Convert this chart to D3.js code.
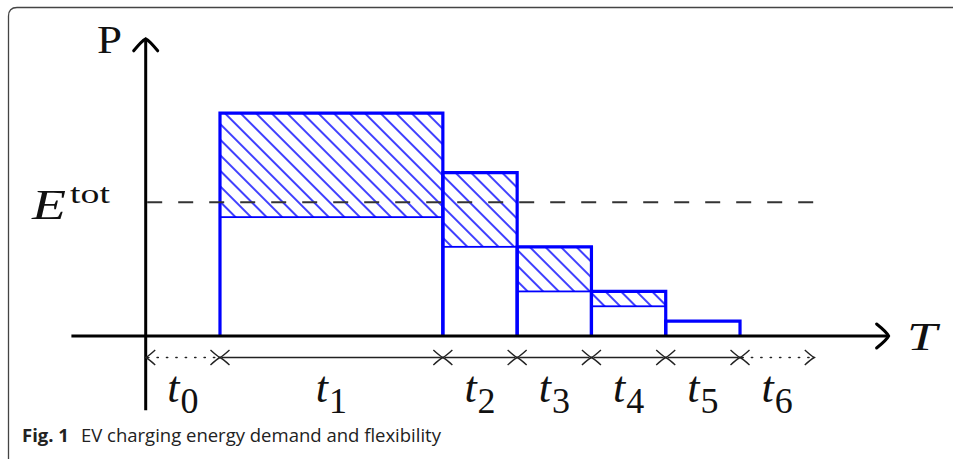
<!DOCTYPE html>
<html>
<head>
<meta charset="utf-8">
<script src="https://cdn.jsdelivr.net/npm/d3@7"></script>
<style>
  html, body { margin: 0; padding: 0; background: #fff; }
  svg { display: block; }
  .math { font-family: "Liberation Serif", "DejaVu Serif", serif; fill: #111; }
  .caption { font-family: "Open Sans", "Noto Sans", sans-serif; fill: #222; }
</style>
</head>
<body>
<svg id="chart"></svg>
<script>
// period boundaries on the time axis (t0 .. t6)
const boundaries = [0, 1, 4, 5, 6, 7, 8, 9];
const periods = ['0', '1', '2', '3', '4', '5', '6'];
// charging power per period t1..t5: upper = max, lower = min (hatched = flexibility)
const upper = [3.0, 2.2, 1.2, 0.6, 0.2];
const lower = [1.6, 1.2, 0.6, 0.4, 0.2];
const eTot = 1.8;
const captionBold = 'Fig. 1';
const captionText = 'EV charging energy demand and flexibility';

const width = 953;
const height = 459;

const x = d3.scaleLinear().domain([0, 10]).range([145.7, 888.6]);
const y = d3.scaleLinear().domain([0, 4]).range([336, 38.8]);

const svg = d3.select('#chart')
    .attr('width', width)
    .attr('height', height);

// card frame
svg.append('path')
    .attr('d', 'M8.5,460 V16 Q8.5,7.5 17,7.5 H954')
    .attr('fill', 'none')
    .attr('stroke', '#444')
    .attr('stroke-width', 1.3);

const defs = svg.append('defs');
const pat = defs.append('pattern')
    .attr('id', 'hatch')
    .attr('patternUnits', 'userSpaceOnUse')
    .attr('width', 11)
    .attr('height', 11)
    .attr('patternTransform', 'rotate(-45)');
pat.append('line')
    .attr('x1', 2).attr('y1', -1)
    .attr('x2', 2).attr('y2', 12)
    .attr('stroke', '#0000ff')
    .attr('stroke-width', 1.5);

const bars = upper.map((u, i) => ({
  x0: boundaries[i + 1],
  x1: boundaries[i + 2],
  upper: u,
  lower: lower[i],
}));

// hatched flexible part
svg.selectAll('.flex')
    .data(bars.filter(d => d.upper > d.lower))
  .enter().append('rect')
    .attr('class', 'flex')
    .attr('x', d => x(d.x0))
    .attr('y', d => y(d.upper))
    .attr('width', d => x(d.x1) - x(d.x0))
    .attr('height', d => y(d.lower) - y(d.upper))
    .attr('fill', 'url(#hatch)')
    .attr('stroke', '#0000ff')
    .attr('stroke-width', 1.8);

// bar outlines
svg.selectAll('.bar')
    .data(bars)
  .enter().append('path')
    .attr('class', 'bar')
    .attr('d', d => `M${x(d.x0)},${y(0)} V${y(d.upper)} H${x(d.x1)} V${y(0)}`)
    .attr('fill', 'none')
    .attr('stroke', '#0000ff')
    .attr('stroke-width', 3.2)
    .attr('stroke-linejoin', 'miter');

// E tot dashed line
svg.append('line')
    .attr('x1', x(0) + 1.5)
    .attr('x2', x(9.05))
    .attr('y1', y(eTot))
    .attr('y2', y(eTot))
    .attr('stroke', '#333')
    .attr('stroke-width', 1.8)
    .attr('stroke-dasharray', '15 16');

// axes
const axisG = svg.append('g')
    .attr('stroke', '#000')
    .attr('fill', 'none')
    .attr('stroke-width', 3);
axisG.append('line')
    .attr('x1', x(0)).attr('x2', x(0))
    .attr('y1', y(-1)).attr('y2', y(4) + 1.5);
axisG.append('line')
    .attr('x1', x(-1)).attr('x2', x(10) - 1.5)
    .attr('y1', y(0)).attr('y2', y(0));
axisG.append('path')
    .attr('d', `M${x(0) - 12},${y(4) + 12} Q${x(0) - 4},${y(4) + 2} ${x(0)},${y(4)} Q${x(0) + 4},${y(4) + 2} ${x(0) + 12},${y(4) + 12}`)
    .attr('stroke-linecap', 'round');
axisG.append('path')
    .attr('d', `M${x(10) - 12},${y(0) - 12} Q${x(10) - 2},${y(0) - 4} ${x(10)},${y(0)} Q${x(10) - 2},${y(0) + 4} ${x(10) - 12},${y(0) + 12}`)
    .attr('stroke-linecap', 'round');

// period brackets
const by = y(0) + 21.5;
function head(tipX, dir) {
  // dir = -1 points left, +1 points right
  const L = 9.5, W = 7.5;
  return `M${tipX - dir * L},${by - W} Q${tipX - dir * 3},${by - 1.5} ${tipX},${by} ` +
         `Q${tipX - dir * 3},${by + 1.5} ${tipX - dir * L},${by + W}`;
}
const segs = periods.map((p, i) => ({ p, a: boundaries[i], b: boundaries[i + 1], dotted: i === 0 || i === periods.length - 1 }));
const segG = svg.append('g').attr('stroke', '#222').attr('fill', 'none');
segs.forEach(s => {
  segG.append('line')
      .attr('x1', x(s.a) + 2).attr('x2', x(s.b) - 2)
      .attr('y1', by).attr('y2', by)
      .attr('stroke-width', s.dotted ? 1.6 : 1.3)
      .attr('stroke-dasharray', s.dotted ? '1.2 8.2' : null)
      .attr('stroke-linecap', s.dotted ? 'round' : 'butt');
  segG.append('path').attr('d', head(x(s.a), -1)).attr('stroke-width', 1.4);
  segG.append('path').attr('d', head(x(s.b), 1)).attr('stroke-width', 1.4);
});

// period labels
const lab = svg.selectAll('.tlab')
    .data(segs)
  .enter().append('text')
    .attr('class', 'math tlab')
    .attr('x', d => x((d.a + d.b) / 2))
    .attr('y', 402)
    .attr('text-anchor', 'middle')
    .attr('font-size', 44);
lab.append('tspan').attr('font-style', 'italic').text('t');
lab.append('tspan').attr('font-size', 36).attr('dy', 11).attr('dx', 1).text(d => d.p);

// axis labels (slightly widened toward the Computer Modern look)
svg.append('text')
    .attr('class', 'math')
    .attr('x', 97).attr('y', 53)
    .attr('font-size', 39)
    .attr('textLength', 25)
    .attr('lengthAdjust', 'spacingAndGlyphs')
    .text('P');
svg.append('text')
    .attr('class', 'math')
    .attr('x', 907).attr('y', 350)
    .attr('font-size', 41)
    .attr('font-style', 'italic')
    .attr('textLength', 30)
    .attr('lengthAdjust', 'spacingAndGlyphs')
    .text('T');
svg.append('text')
    .attr('class', 'math')
    .attr('x', 32).attr('y', y(eTot) + 17)
    .attr('font-size', 43)
    .attr('font-style', 'italic')
    .attr('textLength', 34)
    .attr('lengthAdjust', 'spacingAndGlyphs')
    .text('E');
svg.append('text')
    .attr('class', 'math')
    .attr('x', 70).attr('y', y(eTot) + 1)
    .attr('font-size', 27)
    .attr('textLength', 40)
    .attr('lengthAdjust', 'spacingAndGlyphs')
    .text('tot');

// caption
const cap = svg.append('text')
    .attr('class', 'caption')
    .attr('x', 22).attr('y', 442)
    .attr('font-size', 18.5);
cap.append('tspan').attr('font-weight', 'bold').text(captionBold);
cap.append('tspan').attr('dx', 12).text(captionText);
</script>
</body>
</html>
